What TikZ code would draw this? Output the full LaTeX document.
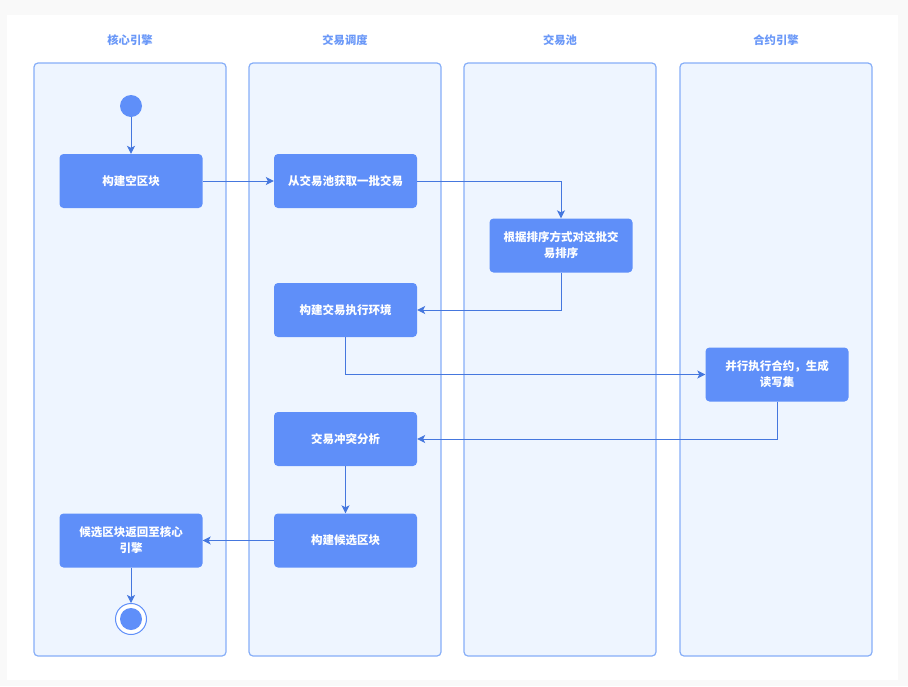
\documentclass[tikz,border=0pt]{standalone}
\usepackage{fontspec}
\setmainfont{Noto Sans CJK SC}
\usetikzlibrary{arrows.meta}
\definecolor{bgout}{HTML}{F9F9F9}
\definecolor{lanefill}{HTML}{EEF5FF}
\definecolor{laneline}{HTML}{86AEF8}
\definecolor{nodefill}{HTML}{5F8FF9}
\definecolor{linecol}{HTML}{4577DE}
\definecolor{titlecol}{HTML}{6A98F8}
\begin{document}
\begin{tikzpicture}[x=1pt,y=-1pt,
  lane/.style={draw=laneline,fill=lanefill,line width=1.2pt,rounded corners=4pt},
  lanetitle/.style={text=titlecol,font=\bfseries\fontsize{11.3}{13}\selectfont},
  act/.style={fill=nodefill,draw=none,rounded corners=4pt,minimum width=143pt,minimum height=54pt,text=white,align=center,font=\bfseries\fontsize{11.5}{16}\selectfont},
  flow/.style={draw=linecol,line width=1pt,-{Stealth[length=8pt,width=8pt,inset=2pt]}},
  startdot/.style={circle,fill=nodefill,minimum size=22pt,inner sep=0pt},
]
\useasboundingbox (0,0) rectangle (908,686);
\fill[bgout] (0,0) rectangle (908,686);
\fill[white] (7,15) rectangle (898,680);
% lanes
\node[lanetitle] (t1) at (130,40) {核心引擎};
\node[lanetitle] (t2) at (345,40) {交易调度};
\node[lanetitle] (t3) at (560,40) {交易池};
\node[lanetitle] (t4) at (776,40) {合约引擎};
\draw[lane] (34,63) rectangle (226,656);
\draw[lane] (249,63) rectangle (441,656);
\draw[lane] (464,63) rectangle (656,656);
\draw[lane] (680,63) rectangle (872,656);
% nodes
\node[startdot] (start) at (131,106) {};
\node[act] (a1) at (131,181) {构建空区块};
\node[act] (a2) at (345.5,181) {从交易池获取一批交易};
\node[act] (a3) at (561,245.5) {根据排序方式对这批交\\易排序};
\node[act] (a4) at (345.5,310) {构建交易执行环境};
\node[act] (a5) at (777,374.5) {并行执行合约，生成\\读写集};
\node[act] (a6) at (345.5,439) {交易冲突分析};
\node[act] (a7) at (345.5,540.5) {构建候选区块};
\node[act] (a8) at (131,540.5) {候选区块返回至核心\\引擎};
\node[circle,draw=nodefill,line width=1pt,fill=white,minimum size=31pt,inner sep=0pt] (endo) at (131,619) {};
\node[startdot] (endi) at (131,619) {};
% connectors
\draw[flow] (start) -- (a1);
\draw[flow] (a1) -- (a2);
\draw[flow] (a2.east) -| (a3.north);
\draw[flow] (a3.south) |- (a4.east);
\draw[flow] (a4.south) |- (a5.west);
\draw[flow] (a5.south) |- (a6.east);
\draw[flow] (a6) -- (a7);
\draw[flow] (a7) -- (a8);
\draw[flow] (a8) -- (endo);
\end{tikzpicture}
\end{document}
